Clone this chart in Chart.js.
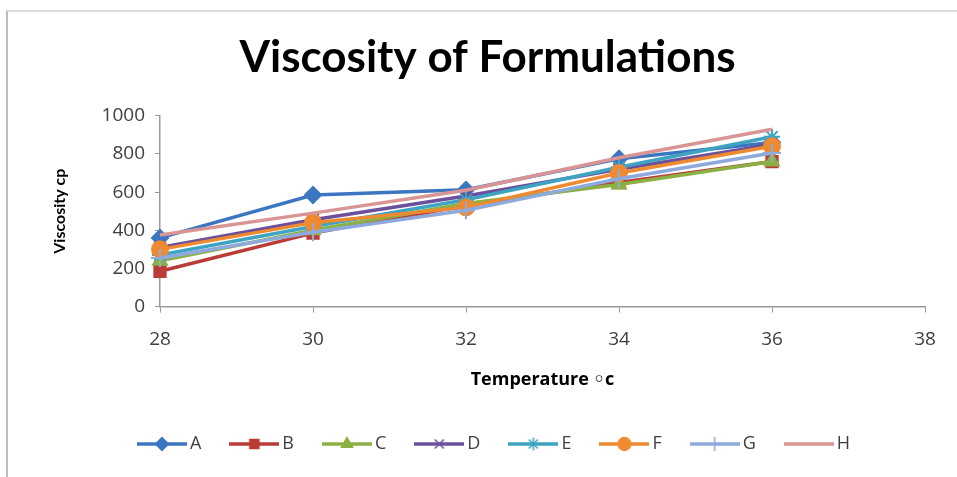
<!DOCTYPE html>
<html>
<head>
<meta charset="utf-8">
<script src="https://cdn.jsdelivr.net/npm/chart.js@4.4.1/dist/chart.umd.min.js"></script>
<style>
  html, body { margin: 0; padding: 0; background: #fff; }
  #wrap {
    position: absolute; left: 6px; top: 10px; width: 951px; height: 467px;
    border-left: 2px solid #bdbdbd; border-top: 2px solid #dcdcdc;
  }
  #viscChart { display: block; }
</style>
</head>
<body>
<div id="wrap"><canvas id="viscChart" width="949" height="465"></canvas></div>
<script>
// temperatures (x) and viscosity readings for each formulation
var temps = [28, 30, 32, 34, 36];
var seriesA = [360, 585, 612, 775, 860];
var seriesB = [185, 385, 530, 650, 760];
var seriesC = [240, 400, 540, 640, 760];
var seriesD = [310, 455, 580, 720, 850];
var seriesE = [270, 420, 560, 730, 890];
var seriesF = [300, 440, 520, 700, 840];
var seriesG = [255, 390, 505, 670, 805];
var seriesH = [375, 490, 610, 780, 930];
var seriesNames = ['A', 'B', 'C', 'D', 'E', 'F', 'G', 'H'];
var yTicks = [0, 200, 400, 600, 800, 1000];
var xTicks = [28, 30, 32, 34, 36, 38];

var allSeries = [seriesA, seriesB, seriesC, seriesD, seriesE, seriesF, seriesG, seriesH];
var colors = ['#3d76c0', '#b93c37', '#8bb043', '#6d509c', '#3fa4c2', '#ef8a30', '#8eaadc', '#d99594'];
var markers = ['rectRot', 'rect', 'triangle', 'crossRot', 'star', 'circle', 'cross', false];
var radii = [8, 8, 8, 8, 8, 8, 9, 0];

var titleFont = "Lato, 'Open Sans', sans-serif";
var wideFont = "'Open Sans', 'DejaVu Sans', sans-serif";

// small legend swatch: a line with the marker in the middle
function makeSwatch(color, marker, r) {
    var c = document.createElement('canvas');
    c.width = 50; c.height = 20;
    var g = c.getContext('2d');
    g.strokeStyle = color;
    g.lineWidth = 3.5;
    g.beginPath(); g.moveTo(0, 10); g.lineTo(50, 10); g.stroke();
    if (marker && Chart.helpers && Chart.helpers.drawPoint) {
        g.fillStyle = color;
        g.lineWidth = 1.5;
        Chart.helpers.drawPoint(g, { pointStyle: marker, radius: r * 0.8, rotation: 0, borderWidth: 1.5 }, 25, 10);
    }
    return c;
}

var datasets = allSeries.map(function (vals, i) {
    return {
        label: seriesNames[i],
        data: temps.map(function (t, j) { return { x: t, y: vals[j] }; }),
        borderColor: colors[i],
        backgroundColor: colors[i],
        borderWidth: 3.5,
        pointStyle: markers[i],
        pointRadius: radii[i],
        pointBorderWidth: 2,
        pointBorderColor: colors[i],
        pointBackgroundColor: colors[i],
        tension: 0,
        clip: false,
        order: allSeries.length - i // later series on top, like Excel
    };
});

var swatches = datasets.map(function (d, i) { return makeSwatch(colors[i], markers[i], radii[i]); });

var ctx = document.getElementById('viscChart').getContext('2d');
var viscChart = new Chart(ctx, {
    type: 'line',
    data: { datasets: datasets },
    options: {
        responsive: false,
        animation: false,
        layout: { padding: { left: 42, right: 32, top: 0, bottom: 14 } },
        plugins: {
            title: {
                display: true,
                text: 'Viscosity of Formulations',
                color: '#000',
                font: { family: titleFont, size: 44, weight: 'bold' },
                padding: { top: 19, bottom: 32 }
            },
            legend: {
                position: 'bottom',
                labels: {
                    usePointStyle: true,
                    pointStyleWidth: 38,
                    padding: 34,
                    color: '#404040',
                    font: { family: wideFont, size: 18 },
                    generateLabels: function (chart) {
                        return chart.data.datasets.map(function (d, i) {
                            return {
                                text: d.label,
                                pointStyle: swatches[i],
                                fillStyle: colors[i],
                                strokeStyle: colors[i],
                                lineWidth: 0,
                                fontColor: '#404040',
                                hidden: false,
                                datasetIndex: i
                            };
                        });
                    }
                }
            },
            tooltip: { enabled: false }
        },
        scales: {
            x: {
                type: 'linear',
                min: 28,
                max: 38,
                afterBuildTicks: function (s) { s.ticks = xTicks.map(function (v) { return { value: v }; }); },
                grid: { drawOnChartArea: false, drawTicks: true, tickLength: 6, color: '#9a9a9a' },
                border: { color: '#9a9a9a', width: 1.5 },
                ticks: { color: '#404040', padding: 16, font: { family: wideFont, size: 19 } },
                title: {
                    display: true,
                    text: 'Temperature \u25E6c',
                    color: '#000',
                    font: { family: wideFont, size: 18, weight: 'bold' },
                    padding: { top: 2, bottom: 10 }
                }
            },
            y: {
                min: 0,
                max: 1000,
                afterBuildTicks: function (s) { s.ticks = yTicks.map(function (v) { return { value: v }; }); },
                afterFit: function (s) { s.width = 110; },
                grid: { drawOnChartArea: false, drawTicks: true, tickLength: 5, color: '#9a9a9a' },
                border: { color: '#9a9a9a', width: 1.5 },
                ticks: {
                    color: '#404040', padding: 10, font: { family: wideFont, size: 19 },
                    callback: function (v) { return String(v); }
                },
                title: {
                    display: true,
                    text: 'Viscosity cp',
                    color: '#000',
                    font: { family: titleFont, size: 16, weight: 'bold' },
                    padding: { top: 0, bottom: 0 }
                }
            }
        }
    },
    plugins: [{
        id: 'whiteBg',
        beforeDraw: function (chart) {
            var c = chart.ctx;
            c.save();
            c.fillStyle = '#fff';
            c.fillRect(0, 0, chart.width, chart.height);
            c.restore();
        }
    }, {
        // nudge the legend row a little to the right, as in the original
        id: 'legendShift',
        afterLayout: function (chart) {
            if (chart.legend) {
                chart.legend.left += 9;
                chart.legend.right += 9;
            }
        }
    }]
});
</script>
</body>
</html>
